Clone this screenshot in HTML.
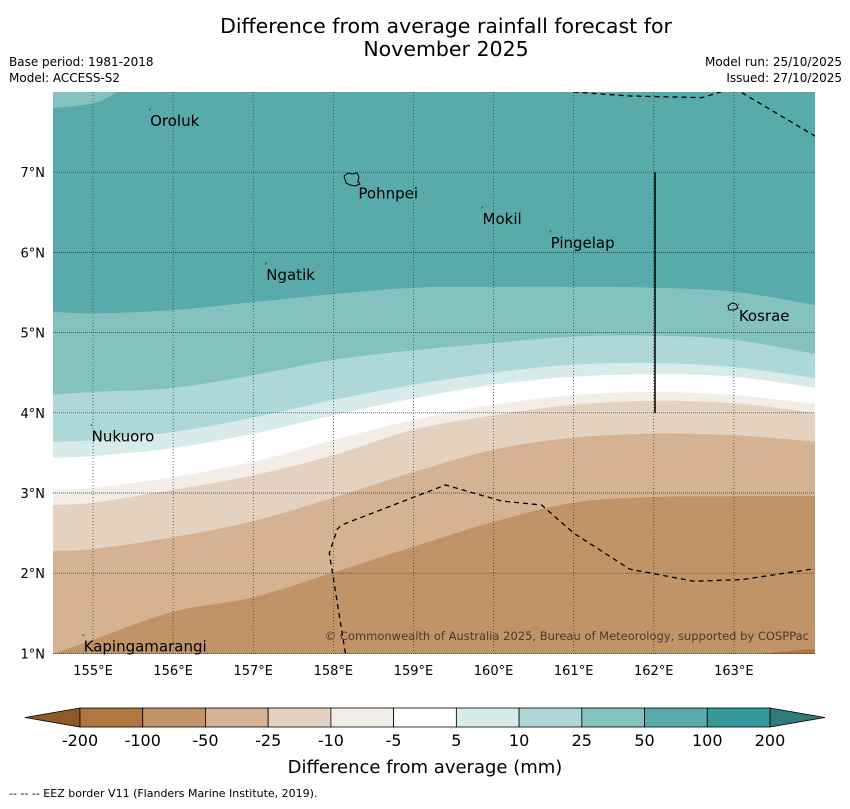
<!DOCTYPE html>
<html><head><meta charset="utf-8"><style>
body{margin:0;background:#fff;font-family:"Liberation Sans","DejaVu Sans",sans-serif;}
svg text{font-family:"DejaVu Sans","Liberation Sans",sans-serif;}
</style></head><body>
<svg id="chart" width="850" height="804" viewBox="0 0 850 804" xmlns="http://www.w3.org/2000/svg">
<text x="446" y="33" text-anchor="middle" font-size="20.5">Difference from average rainfall forecast for</text>
<text x="446" y="56" text-anchor="middle" font-size="20.5">November 2025</text>
<text x="9" y="66" font-size="12">Base period: 1981-2018</text>
<text x="9" y="82" font-size="12">Model: ACCESS-S2</text>
<text x="842" y="66" font-size="12" text-anchor="end">Model run: 25/10/2025</text>
<text x="842" y="82" font-size="12" text-anchor="end">Issued: 27/10/2025</text>
<defs><clipPath id="mapclip"><rect x="53" y="92" width="762" height="562"/></clipPath></defs>
<g id="map" clip-path="url(#mapclip)"></g>
<g id="overlay"></g>
<g id="cbar"></g>
<text x="425" y="773" text-anchor="middle" font-size="18">Difference from average (mm)</text>
<text x="9" y="797" font-size="11">--  --  -- EEZ border V11 (Flanders Marine Institute, 2019).</text>
</svg>
<script>
const lons = [154.5,155,156,157,158,159,160,161,162,163,164.03];
const levels = [-100,-50,-25,-10,-5,5,10,25,50];
const bM100 = [0.9,0.9,0.9,0.9,0.9,0.9,0.9,0.9,0.92,0.97,1.06];
const bM50 = [0.99,1.17,1.52,1.70,2.01,2.33,2.64,2.88,2.95,2.96,2.96];
const bM25 = [2.28,2.30,2.45,2.65,2.94,3.26,3.54,3.69,3.74,3.72,3.64];
const bM10 = [2.85,2.88,3.04,3.22,3.47,3.79,3.97,4.10,4.15,4.12,4.00];
const bM5 = [3.04,3.06,3.20,3.39,3.66,3.91,4.10,4.22,4.26,4.22,4.11];
const bP5 = [3.44,3.46,3.56,3.74,3.97,4.18,4.35,4.45,4.48,4.45,4.31];
const bP10 = [3.64,3.66,3.76,3.94,4.16,4.35,4.50,4.60,4.62,4.57,4.43];
const bP25 = [4.23,4.26,4.31,4.47,4.66,4.78,4.87,4.95,4.96,4.91,4.73];
const bP50 = [5.26,5.24,5.28,5.38,5.48,5.56,5.57,5.57,5.56,5.51,5.34];
const cornerLons = [154.5,155,155.3,155.6];
const cornerLats = [7.80,7.86,8.0,8.2];
const cbLabels = ["-200","-100","-50","-25","-10","-5","5","10","25","50","100","200"];
const cbColors = ["#b07840","#c19468","#d4b292","#e4d2c1","#f2ede7","#ffffff","#d6ebea","#aed8d7","#84c2bf","#58abaa","#35999a"];
const lonTicks = [155,156,157,158,159,160,161,162,163];
const latTicks = [1,2,3,4,5,6,7];
const places = [["Oroluk",155.7,7.65],["Pohnpei",158.3,6.75],["Mokil",159.85,6.43],["Pingelap",160.7,6.13],["Ngatik",157.15,5.73],["Kosrae",163.05,5.22],["Nukuoro",154.97,3.72],["Kapingamarangi",154.87,1.1]];
const eez1Lon=[161.0,161.7,162.6,163.0,164.1]; const eez1Lat=[8.0,7.95,7.93,8.05,7.4];
const eez2Lon=[158.15,157.95,158.05,158.1,159.4,160.1,160.6,161.0,161.7,162.5,163.1,164.1];
const eez2Lat=[1.0,2.25,2.55,2.6,3.1,2.9,2.85,2.5,2.05,1.9,1.92,2.07];
const NS="http://www.w3.org/2000/svg";
const X=lon=>53+(lon-154.5)*80.1;
const Y=lat=>92+(8-lat)*80.2;
function mk(tag,attrs,parent){const e=document.createElementNS(NS,tag);for(const k in attrs)e.setAttribute(k,attrs[k]);parent.appendChild(e);return e;}
function curve(lx,ly){
  const P=lx.map((l,i)=>[X(l),Y(ly[i])]);
  let d="M"+P[0][0]+","+P[0][1];
  for(let i=0;i<P.length-1;i++){
    const p0=P[Math.max(0,i-1)],p1=P[i],p2=P[i+1],p3=P[Math.min(P.length-1,i+2)];
    const c1x=p1[0]+(p2[0]-p0[0])/6,c1y=p1[1]+(p2[1]-p0[1])/6;
    const c2x=p2[0]-(p3[0]-p1[0])/6,c2y=p2[1]-(p3[1]-p1[1])/6;
    d+=` C${c1x},${c1y} ${c2x},${c2y} ${p2[0]},${p2[1]}`;
  }
  return d;
}
const map=document.getElementById("map");
const base=mk("rect",{x:53,y:92,width:762,height:562,fill:cbColors[0]},map);


const bounds=[bM100,bM50,bM25,bM10,bM5,bP5,bP10,bP25,bP50];
bounds.forEach((b,i)=>{
  const d=curve(lons,b)+" L820,80 L48,80 Z";
  const p=mk("path",{d:d,fill:cbColors[i+1]},map);
  
  
});
const corner=mk("path",{d:curve(cornerLons,cornerLats)+" L48,80 L48,"+Y(cornerLats[0])+" Z",fill:cbColors[8]},map);


const ov=document.getElementById("overlay");
lonTicks.forEach(l=>{
  const g=mk("line",{x1:X(l),x2:X(l),y1:92,y2:654,stroke:"#333","stroke-width":0.7,"stroke-dasharray":"1,2"},ov);
  
  
  const t=mk("text",{x:X(l),y:675,"text-anchor":"middle","font-size":13},ov);t.textContent=l+"°E";
  
  
});
latTicks.forEach(l=>{
  const g=mk("line",{x1:53,x2:815,y1:Y(l),y2:Y(l),stroke:"#333","stroke-width":0.7,"stroke-dasharray":"1,1"},ov);
  
  
  const t=mk("text",{x:45,y:Y(l)+5,"text-anchor":"end","font-size":13},ov);t.textContent=l+"°N";
  
  
});
[[eez1Lon,eez1Lat],[eez2Lon,eez2Lat]].forEach(([a,b])=>{
  let d="M"+X(a[0])+","+Y(b[0]);for(let i=1;i<a.length;i++)d+=" L"+X(a[i])+","+Y(b[i]);
  const p=mk("path",{d:d,fill:"none",stroke:"#000","stroke-width":1.3,"stroke-dasharray":"5,4","clip-path":"url(#mapclip)"},ov);
  
  
});
const vl=mk("line",{x1:655,x2:655,y1:172,y2:413,stroke:"#000","stroke-width":1.5},ov);


const isl=mk("path",{d:"M344,176 l4,-3 l4,1 l5,-1 l2,4 l-1,4 l2,3 l-5,2 l-5,-1 l-4,-2 z",fill:"none",stroke:"#000","stroke-width":1},ov);


const isl2=mk("path",{d:"M728,306 l4,-3 l4,1 l2,4 l-4,2 l-5,0 z",fill:"none",stroke:"#000","stroke-width":1},ov);


places.forEach(p=>{
  const t=mk("text",{x:X(p[1])+1,y:Y(p[2])+6,"font-size":15},ov);t.textContent=p[0];
  
  
  const m=mk("text",{x:X(p[1])-2,y:Y(p[2])-4,"font-size":9},ov);m.textContent="ˊ";
  
  
});
const cp=mk("text",{x:809,y:640,"text-anchor":"end","font-size":11.5,fill:"#4a3a2a"},ov);cp.textContent="© Commonwealth of Australia 2025, Bureau of Meteorology, supported by COSPPac";


const cb=document.getElementById("cbar");
const cx0=80,cx1=770,cw=(cx1-cx0)/cbColors.length,cy=708,ch=19;
const lt=mk("path",{d:`M${cx0},${cy} L25,${cy+ch/2} L${cx0},${cy+ch} Z`,fill:"#8f5a2a",stroke:"#000","stroke-width":0.8},cb);


const rt=mk("path",{d:`M${cx1},${cy} L825,${cy+ch/2} L${cx1},${cy+ch} Z`,fill:"#317a78",stroke:"#000","stroke-width":0.8},cb);


cbColors.forEach((c,i)=>{
  const r=mk("rect",{x:cx0+i*cw,y:cy,width:cw,height:ch,fill:c,stroke:"#000","stroke-width":0.8},cb);
  
  
});
cbLabels.forEach((l,i)=>{
  const t=mk("text",{x:cx0+i*cw,y:746,"text-anchor":"middle","font-size":16},cb);t.textContent=l;
  
  
});
</script>
</body></html>
